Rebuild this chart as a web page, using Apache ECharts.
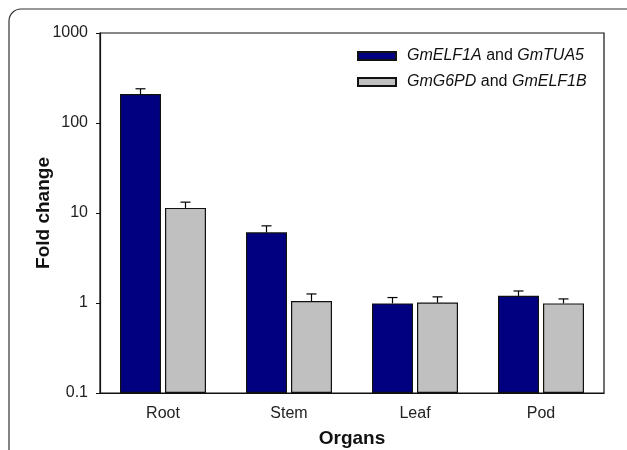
<!DOCTYPE html>
<html>
<head>
<meta charset="utf-8">
<script src="https://cdn.jsdelivr.net/npm/echarts@6/dist/echarts.min.js"></script>
<style>
  html, body { margin: 0; padding: 0; background: #fff; }
  #chart { width: 627px; height: 450px; }
</style>
</head>
<body>
<div id="chart"></div>
<script>
// organs on the x axis
const organs = ["Root", "Stem", "Leaf", "Pod"];
const seriesNames = ["GmELF1A and GmTUA5", "GmG6PD and GmELF1B"];
// fold change values
const elfTua = [210, 6.1, 0.99, 1.2];
const g6pdElf = [11.4, 1.05, 1.01, 0.99];
// error (upper, SE)
const elfTuaErr = [30, 1.1, 0.16, 0.16];
const g6pdElfErr = [1.8, 0.21, 0.16, 0.12];
const yTicks = [0.1, 1, 10, 100, 1000];

const BAR_W = 41;
const BAR_GAP = 4;
const colors = ["#000080", "#c0c0c0"];

const chart = echarts.init(document.getElementById("chart"));

// error bar: vertical line from bar top to top of error + cap
function errorBar(offset) {
  return function (params, api) {
    const x = api.value(0);
    const top = api.coord([x, api.value(1) + api.value(2)]);
    const base = api.coord([x, api.value(1)]);
    const cx = base[0] + offset;
    return {
      type: "group",
      children: [
        { type: "line", shape: { x1: cx, y1: base[1], x2: cx, y2: top[1] },
          style: { stroke: "#000", lineWidth: 1.2 } },
        { type: "line", shape: { x1: cx - 5, y1: top[1], x2: cx + 5, y2: top[1] },
          style: { stroke: "#000", lineWidth: 1.2 } }
      ]
    };
  };
}

const off = BAR_W / 2 + BAR_GAP / 2;

chart.setOption({
  animation: false,
  textStyle: { fontFamily: "Liberation Sans, Arial, sans-serif" },
  graphic: [{
    type: "rect",
    shape: { x: 9, y: 9, width: 640, height: 520, r: 12 },
    style: { fill: "none", stroke: "#333", lineWidth: 1.2 },
    silent: true
  }],
  grid: {
    left: 100, top: 33, right: 23, bottom: 57,
    outerBoundsMode: "none",
    show: true, borderColor: "#111", borderWidth: 1.2
  },
  legend: {
    orient: "vertical",
    left: 357, top: 48,
    padding: 0,
    icon: "rect",
    itemWidth: 38, itemHeight: 8,
    itemGap: 10,
    data: seriesNames,
    formatter: (name) => name.replace(/(Gm\w+)/g, "{i|$1}"),
    textStyle: {
      fontSize: 16, color: "#111", lineHeight: 16, padding: [0, 0, 0, 6],
      rich: { i: { fontStyle: "italic", fontSize: 16, color: "#111" } }
    }
  },
  xAxis: {
    type: "category",
    data: organs,
    name: "Organs",
    nameLocation: "middle",
    nameGap: 36,
    nameMoveOverlap: false,
    nameTextStyle: { fontSize: 19, fontWeight: "bold", color: "#111" },
    axisLine: { lineStyle: { color: "#111", width: 1.2 } },
    axisTick: { alignWithLabel: true, length: 4, lineStyle: { color: "#111" } },
    axisLabel: { fontSize: 16, color: "#222", margin: 13 }
  },
  yAxis: {
    type: "log",
    logBase: 10,
    min: 0.1,
    max: 1000,
    startValue: 0.1,
    name: "Fold change",
    nameLocation: "middle",
    nameGap: 47,
    nameMoveOverlap: false,
    nameTextStyle: { fontSize: 19, fontWeight: "bold", color: "#111" },
    axisLine: { show: true, lineStyle: { color: "#111", width: 1.2 } },
    axisTick: { show: true, length: 4, lineStyle: { color: "#111" } },
    splitLine: { show: false },
    axisLabel: {
      fontSize: 16, color: "#222", margin: 12,
      formatter: (v) => {
        const t = yTicks.find((k) => Math.abs(k - v) / k < 1e-6);
        return t === undefined ? "" : String(t);
      }
    }
  },
  series: [
    {
      name: seriesNames[0], type: "bar", data: elfTua,
      barWidth: BAR_W, barGap: (BAR_GAP / BAR_W * 100) + "%",
      itemStyle: { color: colors[0], borderColor: "#111", borderWidth: 1.2 }
    },
    {
      name: seriesNames[1], type: "bar", data: g6pdElf,
      barWidth: BAR_W,
      itemStyle: { color: colors[1], borderColor: "#111", borderWidth: 1.2 }
    },
    {
      type: "custom", z: 5,
      renderItem: errorBar(-off),
      data: organs.map((o, i) => [i, elfTua[i], elfTuaErr[i]])
    },
    {
      type: "custom", z: 5,
      renderItem: errorBar(off),
      data: organs.map((o, i) => [i, g6pdElf[i], g6pdElfErr[i]])
    }
  ]
});
</script>
</body>
</html>
